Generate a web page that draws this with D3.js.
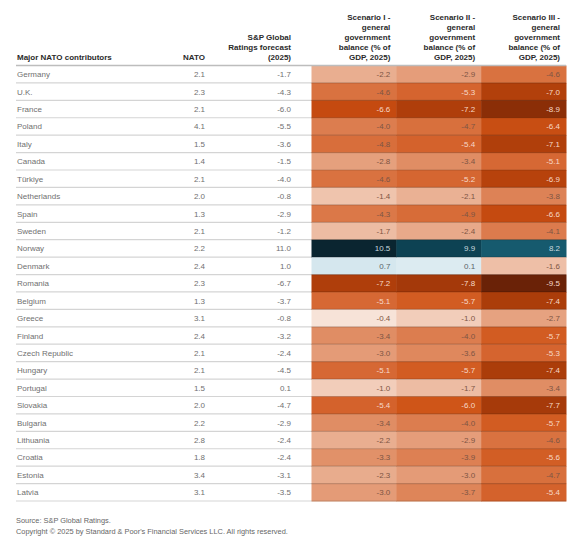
<!DOCTYPE html>
<html><head><meta charset="utf-8">
<script src="https://cdn.jsdelivr.net/npm/d3@7"></script>
<style>
html,body{margin:0;padding:0;background:#fff;}
svg{display:block;font-family:"Liberation Sans",Arial,sans-serif;}
</style></head>
<body><div id="chart"></div>
<script>
const countries = ["Germany","U.K.","France","Poland","Italy","Canada","Türkiye","Netherlands","Spain","Sweden","Norway","Denmark","Romania","Belgium","Greece","Finland","Czech Republic","Hungary","Portugal","Slovakia","Bulgaria","Lithuania","Croatia","Estonia","Latvia"];
const nato = [2.1,2.3,2.1,4.1,1.5,1.4,2.1,2.0,1.3,2.1,2.2,2.4,2.3,1.3,3.1,2.4,2.1,2.1,1.5,2.0,2.2,2.8,1.8,3.4,3.1];
const forecast = [-1.7,-4.3,-6.0,-5.5,-3.6,-1.5,-4.0,-0.8,-2.9,-1.2,11.0,1.0,-6.7,-3.7,-0.8,-3.2,-2.4,-4.5,0.1,-4.7,-2.9,-2.4,-2.4,-3.1,-3.5];
const scenario1 = [-2.2,-4.6,-6.6,-4.0,-4.8,-2.8,-4.6,-1.4,-4.3,-1.7,10.5,0.7,-7.2,-5.1,-0.4,-3.4,-3.0,-5.1,-1.0,-5.4,-3.4,-2.2,-3.3,-2.3,-3.0];
const scenario2 = [-2.9,-5.3,-7.2,-4.7,-5.4,-3.4,-5.2,-2.1,-4.9,-2.4,9.9,0.1,-7.8,-5.7,-1.0,-4.0,-3.6,-5.7,-1.7,-6.0,-4.0,-2.9,-3.9,-3.0,-3.7];
const scenario3 = [-4.6,-7.0,-8.9,-6.4,-7.1,-5.1,-6.9,-3.8,-6.6,-4.1,8.2,-1.6,-9.5,-7.4,-2.7,-5.7,-5.3,-7.4,-3.4,-7.7,-5.7,-4.6,-5.6,-4.7,-5.4];
const headers = [
  ["Major NATO contributors"],
  ["NATO"],
  ["S&P Global","Ratings forecast","(2025)"],
  ["Scenario I -","general","government","balance (% of","GDP, 2025)"],
  ["Scenario II -","general","government","balance (% of","GDP, 2025)"],
  ["Scenario III -","general","government","balance (% of","GDP, 2025)"]
];
const sourceLines = ["Source: S&P Global Ratings.","Copyright © 2025 by Standard & Poor's Financial Services LLC. All rights reserved."];

const W = 585, H = 540;
const svg = d3.select("#chart").append("svg").attr("width", W).attr("height", H);

const y = d3.scaleBand().domain(countries).range([65.5, 501]).paddingInner(0).paddingOuter(0);
const scen = [scenario1, scenario2, scenario3];
const xs = d3.scaleBand().domain([0,1,2]).range([311.5, 566]);

const color = d3.scaleLinear()
  .domain([-9.5,-8.9,-7.7,-7.0,-6.6,-6.0,-5.4,-4.6,-4.0,-3.4,-3.0,-2.2,-1.6,-1.0,-0.4,0,0.1,0.7,8.2,9.9,10.5])
  .range(["#6a2207","#8b2e07","#a63a0a","#b2400b","#c54a10","#cf5518","#d4622c","#d97240","#dc7d4f","#e08d64","#e49b77","#e9ae90","#eebfa7","#f2cdba","#f7e3d8","#f9ece6","#dcebf1","#d5e7ee","#165a6e","#0d4253","#0a2530"])
  .interpolate(d3.interpolateRgb);

scen.forEach((arr, j) => {
  svg.append("g").selectAll("rect").data(arr).join("rect")
    .attr("x", xs(j)).attr("y", (d,i) => y(countries[i]))
    .attr("width", xs.bandwidth() + 0.5).attr("height", y.bandwidth() + 0.5)
    .attr("fill", d => color(d));
});

svg.append("g").selectAll("line").data(countries).join("line")
  .attr("x1", 16).attr("x2", 566)
  .attr("y1", d => y(d) + y.bandwidth()).attr("y2", d => y(d) + y.bandwidth())
  .attr("stroke", "rgba(0,0,0,0.17)").attr("stroke-width", 1.2);
svg.append("line").attr("x1",16).attr("x2",566).attr("y1",65.5).attr("y2",65.5)
  .attr("stroke","#bdbdbd").attr("stroke-width",1.5);

const fs = 8;
const body = svg.append("g").attr("font-size", fs).attr("fill", "#707070");
const baseY = d => y(d) + y.bandwidth()/2 + 3;
body.selectAll("text.name").data(countries).join("text").attr("class","name")
  .attr("x", 17).attr("y", d => baseY(d)).text(d => d);
body.selectAll("text.nato").data(nato).join("text").attr("class","nato")
  .attr("x", 205).attr("y", (d,i) => baseY(countries[i])).attr("text-anchor","end").text(d => d.toFixed(1));
body.selectAll("text.fc").data(forecast).join("text").attr("class","fc")
  .attr("x", 291).attr("y", (d,i) => baseY(countries[i])).attr("text-anchor","end").text(d => d.toFixed(1));

scen.forEach((arr, j) => {
  svg.append("g").attr("font-size", fs).selectAll("text").data(arr).join("text")
    .attr("x", xs(j) + xs.bandwidth() - 6).attr("y", (d,i) => baseY(countries[i]))
    .attr("text-anchor","end")
    .attr("fill", d => d >= 8 ? "#c9d9df" : (d <= -5 ? "#f6d9c9" : (d > 0 ? "#5b6468" : "#7d5544")))
    .text(d => d.toFixed(1));
});

const hx = [17, 205, 291, xs(0)+xs.bandwidth()-6, xs(1)+xs.bandwidth()-6, xs(2)+xs.bandwidth()-6];
const hg = svg.append("g").attr("font-size", fs).attr("font-weight","bold").attr("fill","#2a2a2a");
headers.forEach((lines, k) => {
  const n = lines.length;
  lines.forEach((t, l) => {
    hg.append("text").attr("x", hx[k]).attr("y", 59.5 - (n-1-l)*10)
      .attr("text-anchor", k === 0 ? "start" : "end").text(t);
  });
});

svg.append("g").attr("font-size", 7.4).attr("fill","#666").selectAll("text").data(sourceLines).join("text")
  .attr("x", 16).attr("y", (d,i) => 523 + i*10.5).text(d => d);
</script>
</body></html>
